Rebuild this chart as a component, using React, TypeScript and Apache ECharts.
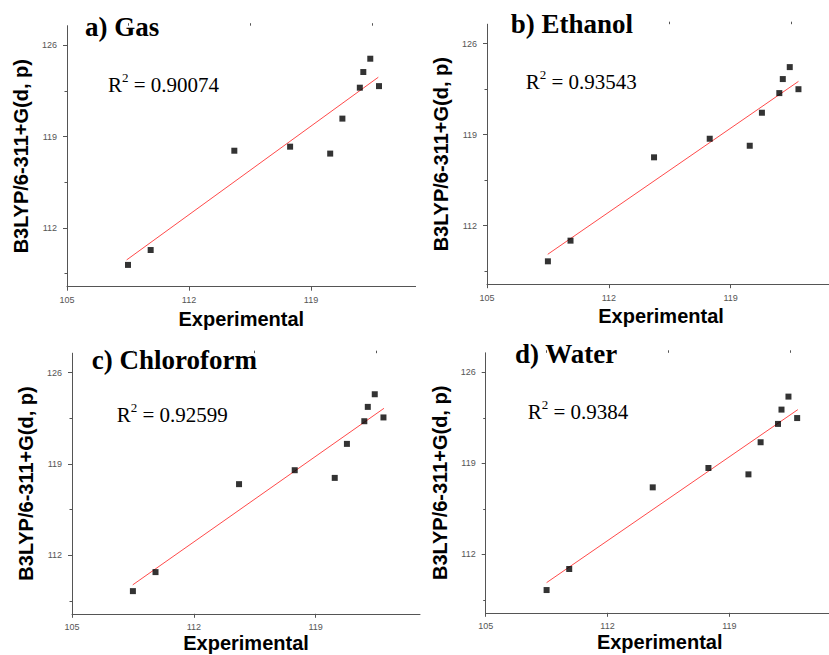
import React, { useEffect, useRef } from "react";
import * as echarts from "echarts";

const expX = [108.5, 109.8, 114.6, 117.8, 120.1, 120.8, 121.8, 122.0, 122.4, 122.9];
const gasY = [109.17, 110.31, 117.92, 118.23, 117.7, 120.38, 122.75, 123.95, 124.97, 122.87];
const ethanolY = [109.26, 110.85, 117.26, 118.69, 118.15, 120.69, 122.2, 123.28, 124.2, 122.5];
const chloroformY = [109.24, 110.7, 117.45, 118.52, 117.93, 120.54, 122.28, 123.38, 124.35, 122.57];
const waterY = [109.25, 110.87, 117.15, 118.64, 118.15, 120.62, 122.03, 123.13, 124.13, 122.48];

const gasFit = [[108.42, 109.55], [122.86, 123.55]];
const ethanolFit = [[108.49, 109.8], [122.9, 123.1]];
const chloroformFit = [[108.49, 109.72], [122.93, 123.27]];
const waterFit = [[108.5, 109.82], [122.94, 123.13]];

const panelTitles = ["a) Gas", "b) Ethanol", "c) Chloroform", "d) Water"];
const r2Values = ["0.90074", "0.93543", "0.92599", "0.9384"];

const xTickLabels = [105, 112, 119];
const xMinorTicks = [108.5, 115.5, 122.5];
const yTickLabels = [112, 119, 126];
const yMinorTicks = [108.5, 115.5, 122.5];

const xTitle = "Experimental";
const yTitle = "B3LYP/6-311+G(d, p)";

const grids = [
  { left: 67, top: 25.7, width: 348.6, height: 261 },
  { left: 487, top: 24.2, width: 348, height: 260 },
  { left: 72, top: 353.2, width: 348, height: 260.6 },
  { left: 485.7, top: 352.8, width: 348, height: 260 },
];
const xNameGaps = [22, 22, 18, 18];
const titlePos = [
  [85, 27],
  [510.7, 24],
  [91.7, 360],
  [515, 354],
];
const r2Pos = [
  [108, 83],
  [525.7, 80],
  [116.7, 413],
  [527.7, 410],
];

const SANS = "'Liberation Sans', Arial, sans-serif";
const SERIF = "'Liberation Serif', 'Times New Roman', serif";

export default function App() {
  const ref = useRef<HTMLDivElement>(null);
  useEffect(() => {
    if (!ref.current) return;
    const chart = echarts.init(ref.current, null, { renderer: "svg" });
    const ys = [gasY, ethanolY, chloroformY, waterY];
    const fits = [gasFit, ethanolFit, chloroformFit, waterFit];
    const xAxis: any[] = [];
    const yAxis: any[] = [];
    const series: any[] = [];
    const graphic: any[] = [];
    grids.forEach((g, i) => {
      xAxis.push({
        type: "value",
        gridIndex: i,
        min: 105,
        max: 125,
        name: xTitle,
        nameLocation: "middle",
        nameGap: xNameGaps[i],
        nameTextStyle: { fontFamily: SANS, fontWeight: "bold", fontSize: 20, color: "#000" },
        axisLine: { show: true, onZero: false, lineStyle: { color: "#555", width: 1 } },
        axisTick: { show: true, length: 4, customValues: xTickLabels, lineStyle: { color: "#555" } },
        axisLabel: { customValues: xTickLabels, fontFamily: SANS, fontSize: 9, color: "#555", margin: 9 },
        splitLine: { show: false },
      });
      xAxis.push({
        type: "value",
        gridIndex: i,
        min: 105,
        max: 125,
        axisLine: { show: false, onZero: false },
        axisTick: { show: true, length: 2.5, customValues: xMinorTicks, lineStyle: { color: "#555" } },
        axisLabel: { show: false },
        splitLine: { show: false },
      });
      yAxis.push({
        type: "value",
        gridIndex: i,
        min: 107.5,
        max: 127.5,
        name: yTitle,
        nameLocation: "middle",
        nameGap: 36,
        nameRotate: 90,
        nameTextStyle: { fontFamily: SANS, fontWeight: "bold", fontSize: 20, color: "#000" },
        axisLine: { show: true, onZero: false, lineStyle: { color: "#555", width: 1 } },
        axisTick: { show: true, length: 4, customValues: yTickLabels, lineStyle: { color: "#555" } },
        axisLabel: { customValues: yTickLabels, fontFamily: SANS, fontSize: 9, color: "#555", margin: 10 },
        splitLine: { show: false },
      });
      yAxis.push({
        type: "value",
        gridIndex: i,
        min: 107.5,
        max: 127.5,
        position: "left",
        axisLine: { show: false, onZero: false },
        axisTick: { show: true, length: 2.5, customValues: yMinorTicks, lineStyle: { color: "#555" } },
        axisLabel: { show: false },
        splitLine: { show: false },
      });
      series.push({
        type: "line",
        xAxisIndex: 2 * i,
        yAxisIndex: 2 * i,
        data: fits[i],
        symbol: "none",
        lineStyle: { color: "#ff4a4a", width: 1 },
        z: 2,
      });
      series.push({
        type: "scatter",
        xAxisIndex: 2 * i,
        yAxisIndex: 2 * i,
        data: expX.map((x, k) => [x, ys[i][k]]),
        symbol: "rect",
        symbolSize: 6,
        itemStyle: { color: "#000" },
        z: 3,
      });
      graphic.push({
        type: "text",
        x: titlePos[i][0],
        y: titlePos[i][1],
        style: {
          text: panelTitles[i],
          font: `bold 27px ${SERIF}`,
          fill: "#000",
          verticalAlign: "middle",
          align: "left",
        },
      });
      graphic.push({
        type: "text",
        x: r2Pos[i][0],
        y: r2Pos[i][1],
        style: {
          text: `{r|R}{s|2}{r| = ${r2Values[i]}}`,
          verticalAlign: "middle",
          align: "left",
          rich: {
            r: { fontFamily: SERIF, fontSize: 21, fill: "#000", lineHeight: 24, verticalAlign: "bottom" },
            s: { fontFamily: SERIF, fontSize: 13, fill: "#000", lineHeight: 24, verticalAlign: "top" },
          },
        },
      });
    });
    chart.setOption({
      animation: false,
      backgroundColor: "#fff",
      grid: grids.map((g) => ({ ...g, containLabel: false, outerBoundsMode: "none" })),
      xAxis,
      yAxis,
      series,
      graphic,
    });
    return () => chart.dispose();
  }, []);
  return (
    <div
      ref={ref}
      style={{ position: "fixed", left: 0, top: 0, width: 829, height: 655, background: "#fff" }}
    />
  );
}
